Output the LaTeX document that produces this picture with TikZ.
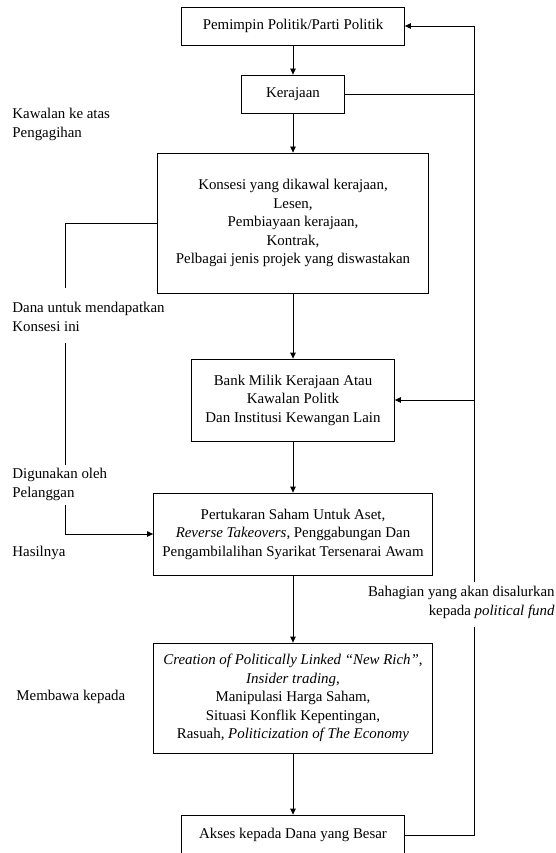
\documentclass[tikz,border=0pt]{standalone}
\usepackage{fontspec}
\setmainfont{Liberation Serif}
\usetikzlibrary{arrows.meta}

\begin{document}
\begin{tikzpicture}[x=1pt,y=-1pt,line width=0.8pt,
  every node/.style={font=\fontsize{14.9}{18.5}\selectfont,inner sep=0pt},
  box/.style={draw,align=center,minimum height=38pt},
  lbl/.style={align=left,anchor=west},
  arr/.style={-{Triangle[length=6pt,width=5.5pt]}}]
  \useasboundingbox (0,0) rectangle (556,853);
  \clip (0,0) rectangle (556,853);
  \node[box,minimum width=223pt] (lead) at (293,26) {Pemimpin Politik/Parti Politik};
  \node[box,minimum width=103pt] (gov) at (293,94) {Kerajaan};
  \node[box,minimum width=271pt,minimum height=140pt] (conc) at (293,223) {Konsesi yang dikawal kerajaan,\\Lesen,\\Pembiayaan kerajaan,\\Kontrak,\\Pelbagai jenis projek yang diswastakan};
  \node[box,minimum width=203pt,minimum height=82pt] (bank) at (293,400) {Bank Milik Kerajaan Atau\\Kawalan Politk\\Dan Institusi Kewangan Lain};
  \node[box,minimum width=279pt,minimum height=82pt] (swap) at (293,534) {Pertukaran Saham Untuk Aset,\\\textit{Reverse Takeovers}, Penggabungan Dan\\Pengambilalihan Syarikat Tersenarai Awam};
  \node[box,minimum width=279pt,minimum height=110pt] (rich) at (293,698) {\textit{Creation of Politically Linked “New Rich”},\\\textit{Insider trading},\\Manipulasi Harga Saham,\\Situasi Konflik Kepentingan,\\Rasuah, \textit{Politicization of The Economy}};
  \node[box,minimum width=223pt,minimum height=40pt] (fund) at (293,835) {Akses kepada Dana yang Besar};
  \node[lbl] (ctrl) at (12,124.5) {Kawalan ke atas\\Pengagihan};
  \node[lbl] (cost) at (12,317) {Dana untuk mendapatkan\\Konsesi ini};
  \node[lbl] (used) at (12,484.5) {Digunakan oleh\\Pelanggan};
  \node[lbl] (res) at (12,553) {Hasilnya};
  \node[lbl] (leads) at (16,697) {Membawa kepada};
  \node[align=right,anchor=east] (share) at (555,602.5) {Bahagian yang akan disalurkan\\kepada \textit{political fund}};
  \coordinate (lx1) at (65,288); \coordinate (lx2) at (65,343);
  \coordinate (lx3) at (65,465); \coordinate (lx4) at (65,505);
  \coordinate (rtop) at (474,26); \coordinate (rmid) at (474,400);
  \coordinate (rgap1) at (474,582); \coordinate (rgap2) at (474,627);
  \foreach \a/\b in {lead/gov,gov/conc,conc/bank,bank/swap,swap/rich,rich/fund}
    \draw[arr] (\a) -- (\b);
  \draw (gov.east) -- (gov.east -| rtop);
  \draw[arr] (rgap1) -- (rtop) -- (lead.east);
  \draw[arr] (rmid) -- (bank.east);
  \draw (fund.east) -| (rgap2);
  \draw (conc.west) -| (lx1);
  \draw (lx2) -- (lx3);
  \draw[arr] (lx4) |- (swap.west);
\end{tikzpicture}
\end{document}
